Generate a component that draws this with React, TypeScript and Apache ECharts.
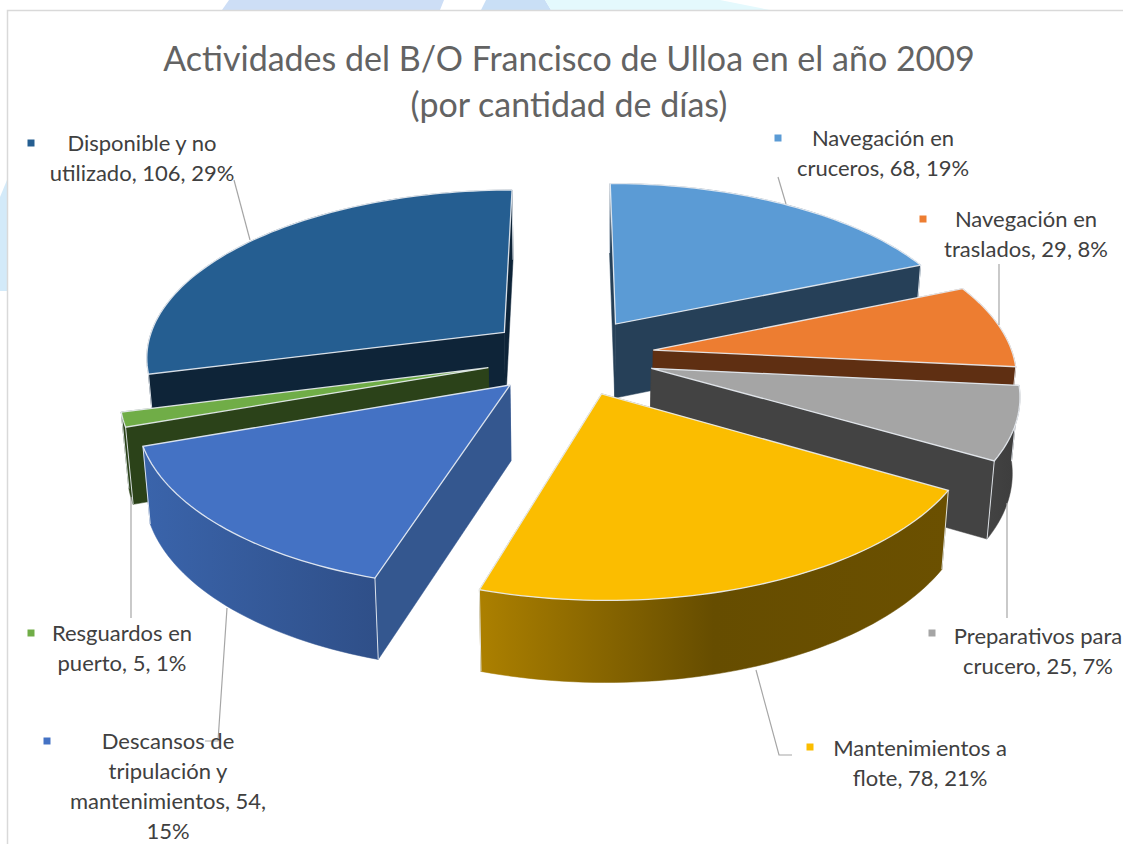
import React, { useEffect, useRef } from "react";
import * as echarts from "echarts";

const titleLines = ["Actividades del B/O Francisco de Ulloa en el año 2009", "(por cantidad de días)"];
const categories = [
  "Navegación en cruceros",
  "Navegación en traslados",
  "Preparativos para crucero",
  "Mantenimientos a flote",
  "Descansos de tripulación y mantenimientos",
  "Resguardos en puerto",
  "Disponible y no utilizado",
];
const values = [68, 29, 25, 78, 54, 5, 106];
const percents = [19, 8, 7, 21, 15, 1, 29];
const topColors = ["#5B9BD5", "#ED7D31", "#A5A5A5", "#FBBD00", "#4472C4", "#70AD47", "#255E91"];
const wallColors = ["#264058", "#5F2F12", "#434343", "#674E00", "#34578F", "#2B4219", "#0E2438"];
const outerStops: string[][] = [
  ["#264058", "#264058"],
  ["#5F2F12", "#5F2F12"],
  ["#434343", "#3C3C3C"],
  ["#AC8000", "#664D00", "#6B5000"],
  ["#3A64AB", "#2F4F88"],
  ["#2B4219", "#2B4219"],
  ["#0E2438", "#0E2438"],
];
// Line breaks of each data label, in data order
const labelBreaks = [
  ["Navegación en", "cruceros, 68, 19%"],
  ["Navegación en", "traslados, 29, 8%"],
  ["Preparativos para", "crucero, 25, 7%"],
  ["Mantenimientos a", "flote, 78, 21%"],
  ["Descansos de", "tripulación y", "mantenimientos, 54,", "15%"],
  ["Resguardos en", "puerto, 5, 1%"],
  ["Disponible y no", "utilizado, 106, 29%"],
];
const labelCenters = [[883, 152.5], [1026, 233.5], [1038, 650.5], [920, 762.5], [168, 785.5], [122, 647.5], [142, 157.5]];
const labelMarkers = [[778, 138], [923, 219], [932, 633], [810, 747], [47, 741], [31, 633], [31, 143]];
const leaders: number[][][] = [
  [[778, 177], [786, 204]],
  [[999, 264], [999, 325]],
  [[1007, 503], [1007, 618]],
  [[756, 670], [779, 755], [792, 755]],
  [[227, 608], [218, 741], [205, 741]],
  [[131, 497], [131, 618]],
  [[234, 180], [250, 240]],
];
// Faint page shapes showing around the chart's frame
const pageShapes: { points: number[][]; color: string }[] = [
  { points: [[229, 0], [444, 0], [440, 10], [222, 10]], color: "#CDDEF6" },
  { points: [[486, 0], [545, 0], [551, 10], [481, 10]], color: "#C9DFF6" },
  { points: [[545, 0], [720, 0], [770, 10], [551, 10]], color: "#E4F9FD" },
  { points: [[0, 197], [7, 180], [7, 291], [0, 291]], color: "#D3EAF9" },
];

// Projection of the pie disc
const CX = 570, CY = 356, RX = 360, RY = 167.5, PERSP = 0.135, DEPTH = 75, EXPLODE = 0.235, CONVERGE = 0.017;
const total = values.reduce((a, b) => a + b, 0);
const project = (X: number, Y: number, Z: number) => {
  const w = 1 / (1 - PERSP * Y);
  return [CX + RX * X * w * (1 - CONVERGE * Z), CY + RY * Y * w + DEPTH * Z * Math.sqrt(w)];
};

function buildSlice(i: number) {
  const before = values.slice(0, i).reduce((a, b) => a + b, 0);
  const a0 = (before / total) * Math.PI * 2;
  const a1 = ((before + values[i]) / total) * Math.PI * 2;
  const m = (a0 + a1) / 2;
  const ox = EXPLODE * Math.sin(m), oy = -EXPLODE * Math.cos(m);
  const steps = Math.max(6, Math.ceil((a1 - a0) * 40));
  const arcTop: number[][] = [], arcBot: number[][] = [];
  for (let k = 0; k <= steps; k++) {
    const a = a0 + ((a1 - a0) * k) / steps;
    const X = ox + Math.sin(a), Y = oy - Math.cos(a);
    arcTop.push(project(X, Y, 0));
    arcBot.push(project(X, Y, 1));
  }
  return { apexTop: project(ox, oy, 0), apexBot: project(ox, oy, 1), arcTop, arcBot, oy };
}

const EDGE = "rgba(235,240,245,0.9)";

function renderSlice(params: any, api: any) {
  const i = api.value(0);
  const s = buildSlice(i);
  const poly = (points: number[][], fill: any, stroke?: string) => ({
    type: "polygon",
    shape: { points },
    style: { fill, stroke: stroke || fill, lineWidth: stroke ? 1.3 : 0.5 },
  });
  const stops = outerStops[i];
  const gradient = {
    type: "linear", x: 0, y: 0, x2: 1, y2: 0,
    colorStops: stops.map((c, k) => ({ offset: k / (stops.length - 1), color: c })),
  };
  const n = s.arcTop.length - 1;
  // The radial wall lying farther back is painted first
  const walls = [0, n].sort((a, b) => s.arcTop[a][1] - s.arcTop[b][1]);
  return {
    type: "group",
    children: [
      ...walls.map((k) => poly([s.apexTop, s.arcTop[k], s.arcBot[k], s.apexBot], wallColors[i])),
      poly([...s.arcTop, ...[...s.arcBot].reverse()], gradient),
      ...[0, n].map((k) => ({
        type: "polyline",
        shape: { points: [s.arcTop[k], s.arcBot[k]] },
        style: { fill: "none", stroke: EDGE, lineWidth: 1 },
      })),
      poly([s.apexTop, ...s.arcTop], topColors[i], EDGE),
    ],
  };
}

const order = values.map((_, i) => i).sort((a, b) => buildSlice(a).oy - buildSlice(b).oy);

const FONT = "Lato, 'Open Sans', sans-serif";

function buildGraphics() {
  const g: any[] = pageShapes.map((p) => ({
    type: "polygon", z: 0, shape: { points: p.points }, style: { fill: p.color },
  }));
  g.push({ type: "rect", z: 1, shape: { x: 7.5, y: 10.5, width: 1200, height: 900 },
    style: { fill: "#ffffff", stroke: "#d9d9d9", lineWidth: 1.5 } });
  titleLines.forEach((t, i) =>
    g.push({ type: "text", z: 20, x: 569, y: 57 + i * 46,
      style: { text: t, fill: "#636363", font: `34px ${FONT}`, textAlign: "center", textVerticalAlign: "middle" } })
  );
  leaders.forEach((pts) =>
    g.push({ type: "polyline", z: 19, shape: { points: pts }, style: { stroke: "#a6a6a6", lineWidth: 1.2, fill: "none" } })
  );
  labelBreaks.forEach((lines, i) => {
    const [cx, cy] = labelCenters[i];
    lines.forEach((t, k) =>
      g.push({ type: "text", z: 20, x: cx, y: cy - ((lines.length - 1) * 30) / 2 + k * 30,
        style: { text: t, fill: "#404040", font: `22px ${FONT}`, textAlign: "center", textVerticalAlign: "middle" } })
    );
    const [mx, my] = labelMarkers[i];
    g.push({ type: "rect", z: 20, shape: { x: mx - 3.5, y: my - 3.5, width: 7, height: 7 }, style: { fill: topColors[i] } });
  });
  return g;
}

export default function App() {
  const ref = useRef<HTMLDivElement>(null);
  useEffect(() => {
    document.body.style.margin = "0";
    document.body.style.background = "#ffffff";
    const chart = echarts.init(ref.current!, undefined, { renderer: "svg" });
    chart.setOption({
      animation: false,
      backgroundColor: "#ffffff",
      graphic: buildGraphics(),
      series: [
        {
          type: "custom",
          coordinateSystem: "none",
          renderItem: renderSlice,
          z: 10,
          silent: true,
          data: order.map((i) => ({ name: categories[i], value: [i, values[i], percents[i]] })),
        },
      ],
    });
    return () => chart.dispose();
  }, []);
  return <div ref={ref} style={{ width: 1123, height: 844, position: "absolute", left: 0, top: 0 }} />;
}
